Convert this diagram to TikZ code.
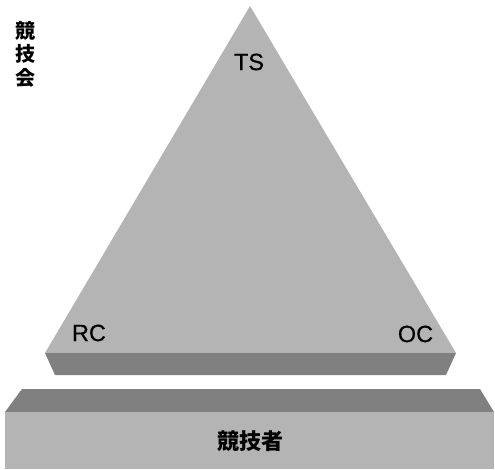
\documentclass[tikz,border=0pt]{standalone}
\usepackage{fontspec}
\setmainfont{Noto Sans CJK JP}
\newfontfamily\latinfont{Liberation Sans}[FakeBold=0.5]
\definecolor{facelight}{RGB}{180,180,180}
\definecolor{facedark}{RGB}{128,128,128}
\tikzset{
  lbl/.style={font=\latinfont\fontsize{23.5}{26}\selectfont, inner sep=0pt, anchor=center},
  jp/.style={font=\fontsize{22}{24}\selectfont\bfseries, inner sep=0pt, anchor=center},
}
\begin{document}
\begin{tikzpicture}[x=1pt,y=-1pt]
\useasboundingbox (0,0) rectangle (495,469);
% pyramid
\fill[facelight] (250,6) -- (456,353) -- (45,353) -- cycle;
\fill[facedark] (45,353) -- (456,353) -- (446,375) -- (55,375) -- cycle;
% platform
\fill[facedark] (22,389) -- (480,389) -- (494,412) -- (5,412) -- cycle;
\fill[facelight] (5,412) rectangle (494,469);
% labels
\node[lbl] (ts) at (249,62) {TS};
\node[lbl] (rc) at (89,333) {RC};
\node[lbl] (oc) at (415.5,334) {OC};
\node[jp] (base) at (250,441) {競技者};
\node[jp, align=center, font=\fontsize{20}{23.5}\selectfont\bfseries] (title) at (26,54) {競\\技\\会};
\end{tikzpicture}
\end{document}
